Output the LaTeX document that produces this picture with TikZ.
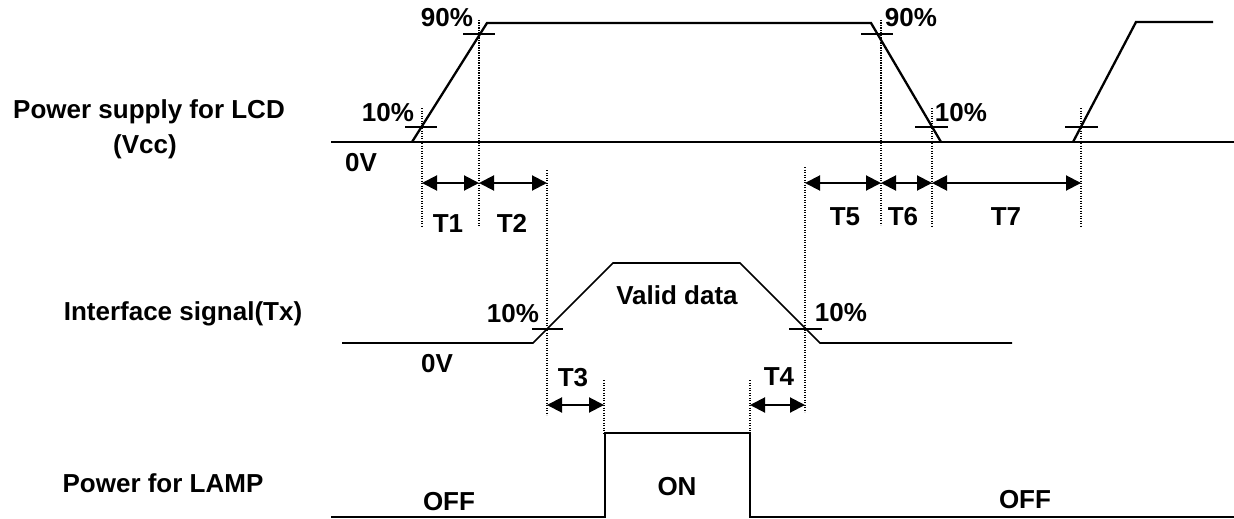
\documentclass[tikz,border=0pt]{standalone}
\usepackage{fontspec}
\setmainfont{Liberation Sans}
\usetikzlibrary{arrows.meta}

\begin{document}
\begin{tikzpicture}[
    x=1pt, y=-1pt,
sig/.style  = {line width=2.3pt, line join=miter},
sigt/.style = {line width=1.7pt, line join=miter},
tick/.style = {line width=1.4pt},
guide/.style = {line width=1.1pt, dash pattern=on 1.1pt off 1.4pt},
dim/.style  = {line width=2pt,
    {Triangle[length=15pt,width=15pt]}-{Triangle[length=15pt,width=15pt]}},
lbl/.style  = {font=\bfseries\fontsize{26}{35}\selectfont, inner sep=0pt, anchor=base}
                        ]
\useasboundingbox (0,0) rectangle (1234,519);
% signal names
\node (vcc)  [lbl] at (149,118) {Power supply for LCD};
\node (vcc2) [lbl] at (145,153) {(Vcc)};
\node (tx)   [lbl] at (183,320) {Interface signal(Tx)};
\node (lamp) [lbl] at (163,492) {Power for LAMP};
%
% Vcc
\draw[sig] (331,142) -- (1234,142);
\draw[sig] (412,142) -- (487,23) -- (871,23) -- (941,142);
\draw[sig] (1073,142) -- (1136,22) -- (1213,22);
\draw[tick] (405,127) -- (437,127)  (463,34) -- (495,34)
            (861,34) -- (893,34)    (915,127) -- (948,127)
            (1065,127) -- (1098,127);
\node (p90a) [lbl] at (447,27)  {90\%};
\node (p10a) [lbl] at (388,121) {10\%};
\node (v0a)  [lbl] at (361,171) {0V};
\node (p90b) [lbl] at (911,27)  {90\%};
\node (p10b) [lbl] at (961,121) {10\%};
%
% Tx
\draw[sigt] (342,343) -- (533,343) -- (613,263) -- (740,263) -- (820,343) -- (1012,343);
\draw[tick] (532,329) -- (563,329)  (789,329) -- (822,329);
\node (p10c)  [lbl] at (513,322) {10\%};
\node (p10d)  [lbl] at (841,321) {10\%};
\node (v0b)   [lbl] at (437,372) {0V};
\node (valid) [lbl] at (677,304) {Valid data};
%
% Lamp
\draw[sig] (331,517) -- (605,517) -- (605,433) -- (750,433) -- (750,517) -- (1234,517);
\node (offa) [lbl] at (449,510) {OFF};
\node (on)   [lbl] at (677,495) {ON};
\node (offb) [lbl] at (1025,508) {OFF};
%
% guide lines
\coordinate (g1a) at (422,108);  \coordinate (g1b) at (422,227);
\coordinate (g2a) at (479,20);   \coordinate (g2b) at (479,227);
\coordinate (g3a) at (547,170);  \coordinate (g3b) at (547,415);
\coordinate (g4a) at (805,167);  \coordinate (g4b) at (805,412);
\coordinate (g5a) at (881,20);   \coordinate (g5b) at (881,225);
\coordinate (g6a) at (932,108);  \coordinate (g6b) at (932,227);
\coordinate (g7a) at (1081,108); \coordinate (g7b) at (1081,227);
\coordinate (g8a) at (604,380);  \coordinate (g8b) at (604,433);
\coordinate (g9a) at (750,380);  \coordinate (g9b) at (750,433);
\foreach \g in {1,...,9}
    \draw[guide] (g\g a) -- (g\g b);
%
% timing arrows
\draw[dim] (g1a |- 0,183) -- (g2a |- 0,183);
\draw[dim] (g2a |- 0,183) -- (g3a |- 0,183);
\draw[dim] (g4a |- 0,183) -- (g5a |- 0,183);
\draw[dim] (g5a |- 0,183) -- (g6a |- 0,183);
\draw[dim] (g6a |- 0,183) -- (g7a |- 0,183);
\draw[dim] (g3a |- 0,405) -- (g8a |- 0,405);
\draw[dim] (g9a |- 0,405) -- (g4a |- 0,405);
\node (t1) [lbl] at (448,232) {T1};
\node (t2) [lbl] at (512,232) {T2};
\node (t5) [lbl] at (845,225) {T5};
\node (t6) [lbl] at (903,225) {T6};
\node (t7) [lbl] at (1006,225) {T7};
\node (t3) [lbl] at (573,386) {T3};
\node (t4) [lbl] at (779,385) {T4};
    \end{tikzpicture}
\end{document}
